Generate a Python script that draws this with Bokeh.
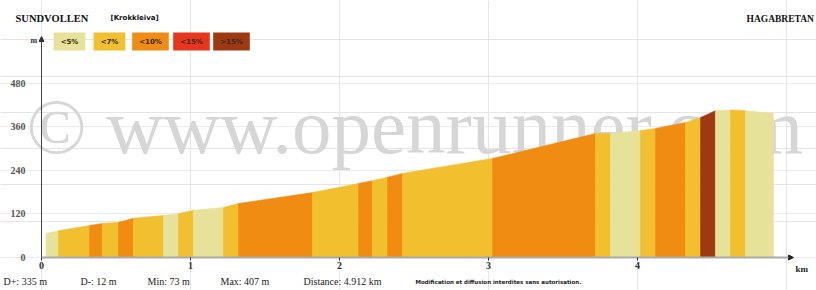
from bokeh.plotting import figure
from bokeh.models import Range1d, Label, FixedTicker, Arrow, NormalHead, LinearAxis, Grid
from bokeh.embed import file_html
from bokeh.resources import INLINE

# ---------------- data ----------------
dist_km = [0.03, 0.114, 0.322, 0.409, 0.517, 0.617, 0.819, 0.919, 1.020, 1.221,
           1.322, 1.819, 2.128, 2.221, 2.322, 2.423, 3.027, 3.718, 3.819, 4.020,
           4.121, 4.322, 4.423, 4.523, 4.624, 4.725, 4.912]
elev_m = [66, 74, 88, 94, 97, 108, 116, 121, 130, 138,
          149, 179, 204, 212, 221, 232, 273, 342, 342, 350,
          356, 372, 386, 405, 407, 405, 397]
grade_class = ["<5%", "<7%", "<10%", "<7%", "<10%", "<7%", "<5%", "<7%", "<5%", "<7%",
               "<10%", "<7%", "<10%", "<7%", "<10%", "<7%", "<10%", "<7%", "<5%", "<7%",
               "<10%", "<7%", ">15%", "<5%", "<7%", "<5%"]
legend_labels = ["<5%", "<7%", "<10%", "<15%", ">15%"]
legend_colors = ["#e6e29a", "#f2c02e", "#f08c12", "#e8361e", "#9e3a12"]
y_ticks = [0, 120, 240, 360, 480]
x_ticks = [0, 1, 2, 3, 4]
start_name = "SUNDVOLLEN"
via_name = "[Krokkleiva]"
end_name = "HAGABRETAN"
stats = ["D+: 335 m", "D-: 12 m", "Min: 73 m", "Max: 407 m", "Distance: 4.912 km"]
notice = "Modification et diffusion interdites sans autorisation."
watermark = "\u00a9 www.openrunner.com"

color_of = dict(zip(legend_labels, legend_colors))

# frame covers the whole canvas: 0 km at px 41, 149 px per km; 0 m at px 257, 219 px per 604 m
PX_KM = 149.0
PX_M = 219.0 / 604.0
W, H = 816, 290
x_lo, x_hi = -41 / PX_KM, (W - 41) / PX_KM
y_lo, y_hi = -(H - 257) / PX_M, 257 / PX_M
x_axis_end = (790 - 41) / PX_KM
y_axis_end = (257 - 38) / PX_M

p = figure(width=W, height=H, min_border=0,
           x_range=Range1d(x_lo, x_hi), y_range=Range1d(y_lo, y_hi),
           x_axis_location=None, y_axis_location=None,
           output_backend="svg", toolbar_location=None)
p.outline_line_color = None
p.background_fill_color = "white"
p.border_fill_color = "white"

def lab(text, px, py, size="10px", font="Liberation Serif", style="normal", color="#222222",
        align="left", baseline="middle", **kw):
    l = Label(x=px, y=py, x_units="canvas", y_units="canvas", text=text, text_font=font,
              text_font_size=size, text_font_style=style, text_color=color,
              text_align=align, text_baseline=baseline, **kw)
    p.add_layout(l)
    return l

# grid + watermark (under the profile)
p.add_layout(Grid(dimension=1, ticker=FixedTicker(ticks=y_ticks), bounds=(0, x_axis_end),
                  grid_line_color="#ebebeb", level="underlay"))
lab(watermark, 26, 126, size="79px", color="#d6d6d6", level="underlay")

# profile segments
xs, ys, cols = [], [], []
for i, g in enumerate(grade_class):
    x0, x1 = dist_km[i], dist_km[i + 1]
    e0, e1 = elev_m[i], elev_m[i + 1]
    xs.append([x0, x0, x1, x1])
    ys.append([0, e0, e1, 0])
    cols.append(color_of[g])
p.patches(xs, ys, fill_color=cols, line_color=cols, line_width=0.6)

# axes
yaxis = LinearAxis(fixed_location=0, ticker=FixedTicker(ticks=y_ticks), bounds=(0, y_axis_end),
                   major_tick_out=0, major_tick_in=0, minor_tick_out=0, minor_tick_in=0,
                   axis_line_color="#444444", major_label_standoff=16,
                   major_label_text_font="Liberation Serif", major_label_text_font_size="10px",
                   major_label_text_font_style="bold", major_label_text_color="#555555")
p.add_layout(yaxis, "left")
xaxis = LinearAxis(fixed_location=0, ticker=FixedTicker(ticks=x_ticks), bounds=(0, x_axis_end),
                   major_tick_out=3, major_tick_in=0, minor_tick_out=0, minor_tick_in=0,
                   major_tick_line_color="#333333", axis_line_color="#aaaaaa", axis_line_width=2,
                   major_label_standoff=1, major_label_text_font="Liberation Serif",
                   major_label_text_font_size="10px", major_label_text_font_style="bold",
                   major_label_text_color="#333333")
p.add_layout(xaxis, "below")

# axis arrows
p.add_layout(Arrow(x_start=41, y_start=48, x_end=41, y_end=36,
                   start_units="canvas", end_units="canvas",
                   line_color="#444444", line_width=1,
                   end=NormalHead(size=5, fill_color="#333333", line_color="#333333")))
p.add_layout(Arrow(x_start=782, y_start=257, x_end=793, y_end=257,
                   start_units="canvas", end_units="canvas",
                   line_color="#aaaaaa", line_width=1,
                   end=NormalHead(size=5, fill_color="#222222", line_color="#222222")))

# header
lab(start_name, 15, 18, size="10.5px", style="bold", color="#111111")
lab(via_name, 110, 17, size="7px", style="bold", color="#111111", font="DejaVu Sans")
lab(end_name, 746, 18, size="9.5px", style="bold", color="#111111")
lab("m", 30, 40, size="8px", style="bold", color="#333333")

# legend boxes
legend_x = [69, 109, 150, 191, 231]
for t, c, cx in zip(legend_labels, legend_colors, legend_x):
    lab(t, cx, 41, size="7px", style="bold", color="#3a2a10", font="DejaVu Sans",
        align="center", background_fill_color=c, padding=(7, 5))

# km label
lab("km", 795, 268, size="9px", style="bold", color="#222222")

# footer stats
stat_x = [3, 80, 147, 220, 303]
for t, sx in zip(stats, stat_x):
    lab(t, sx, 281, size="10px", color="#222222")
lab(notice, 415, 281, size="5.5px", style="bold", color="#222222", font="DejaVu Sans")

open("out.html", "w").write(file_html(p, INLINE))
